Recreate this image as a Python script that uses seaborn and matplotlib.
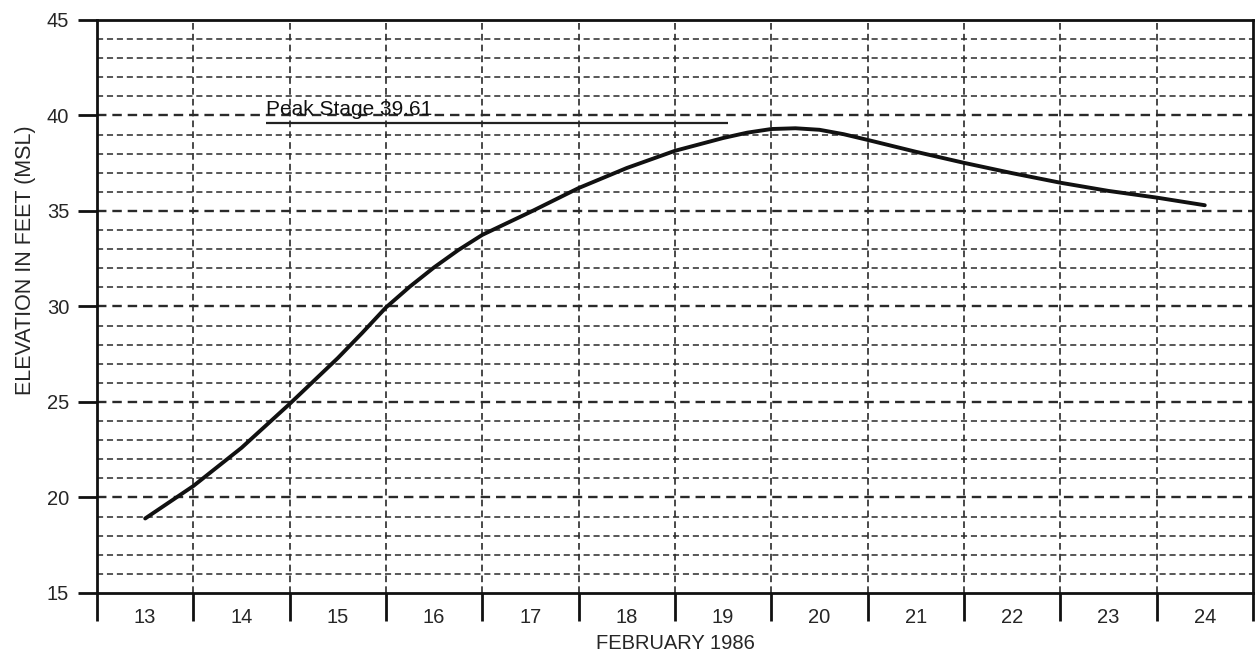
import numpy as np
import pandas as pd
import matplotlib
matplotlib.use('Agg')
import matplotlib.pyplot as plt
import seaborn as sns
from matplotlib.ticker import FixedLocator, MultipleLocator

# --- Data (day of February 1986, elevation in ft MSL) ---
days = [13, 13.5, 14, 14.5, 15, 15.25, 15.5, 15.75, 16, 16.25, 16.5, 17, 17.5, 18, 18.5,
        19, 19.25, 19.5, 19.75, 20, 20.25, 20.5, 21, 21.5, 22, 22.5, 23, 23.5, 24]
elevation = [18.9, 20.6, 22.6, 24.9, 27.3, 28.6, 29.95, 31.05, 32.05, 32.95, 33.75, 34.95,
             36.2, 37.25, 38.15, 38.82, 39.1, 39.29, 39.33, 39.25, 39.02, 38.72, 38.1,
             37.52, 36.98, 36.48, 36.05, 35.7, 35.3]
day_labels = [str(d) for d in range(13, 25)]
peak_stage = 39.61
peak_start, peak_end = 14.25, 19.05

df = pd.DataFrame({'day': days, 'elevation': elevation})

sns.set_style('white')
plt.rcParams['font.family'] = ['Liberation Sans', 'DejaVu Sans']

fig = plt.figure(figsize=(12.6, 6.59), dpi=100)
ax = fig.add_axes([0.077, 0.1002, 0.9174, 0.8695])

grid_col = '#2a2a2a'
# vertical day boundaries and horizontal 1-ft lines
for xb in np.arange(13.5, 24.5, 1.0):
    ax.axvline(xb, color=grid_col, lw=1.2, ls=(0, (4, 2.5)), zorder=1)
for yv in range(16, 45):
    heavy = yv % 5 == 0
    ax.axhline(yv, color=grid_col, lw=1.7 if heavy else 1.1, ls=(0, (4, 2.5)), zorder=1)

sns.lineplot(data=df, x='day', y='elevation', ax=ax, color='#111111', lw=2.8, zorder=3)

ax.hlines(peak_stage, peak_start, peak_end, color='#222222', lw=1.6, zorder=3)
ax.text(peak_start, peak_stage + 0.2, f'Peak Stage {peak_stage}', fontsize=15,
        ha='left', va='bottom', color='#111111')

ax.set_xlim(12.5, 24.5)
ax.set_ylim(15, 45)

# x: labels centred on days, tick marks on day boundaries
ax.xaxis.set_major_locator(FixedLocator(list(range(13, 25))))
ax.set_xticklabels(day_labels)
ax.xaxis.set_minor_locator(FixedLocator(list(np.arange(12.5, 25.0, 1.0))))
ax.tick_params(axis='x', which='major', bottom=True, length=0, pad=11, labelsize=14.5)
ax.tick_params(axis='x', which='minor', bottom=True, length=20, width=2, direction='out',
               color='#111111')

ax.yaxis.set_major_locator(MultipleLocator(5))
ax.tick_params(axis='y', which='major', left=True, length=14, width=2, direction='out',
               color='#111111', labelsize=14.5, pad=6)

for s in ax.spines.values():
    s.set_color('#111111')
    s.set_linewidth(2)

ax.set_xlabel('FEBRUARY 1986', fontsize=14.5, labelpad=5)
ax.set_ylabel('ELEVATION IN FEET (MSL)', fontsize=15.5)
ax.yaxis.set_label_coords(-0.053, 0.581)

fig.savefig('out.png', dpi=100, facecolor='white')
